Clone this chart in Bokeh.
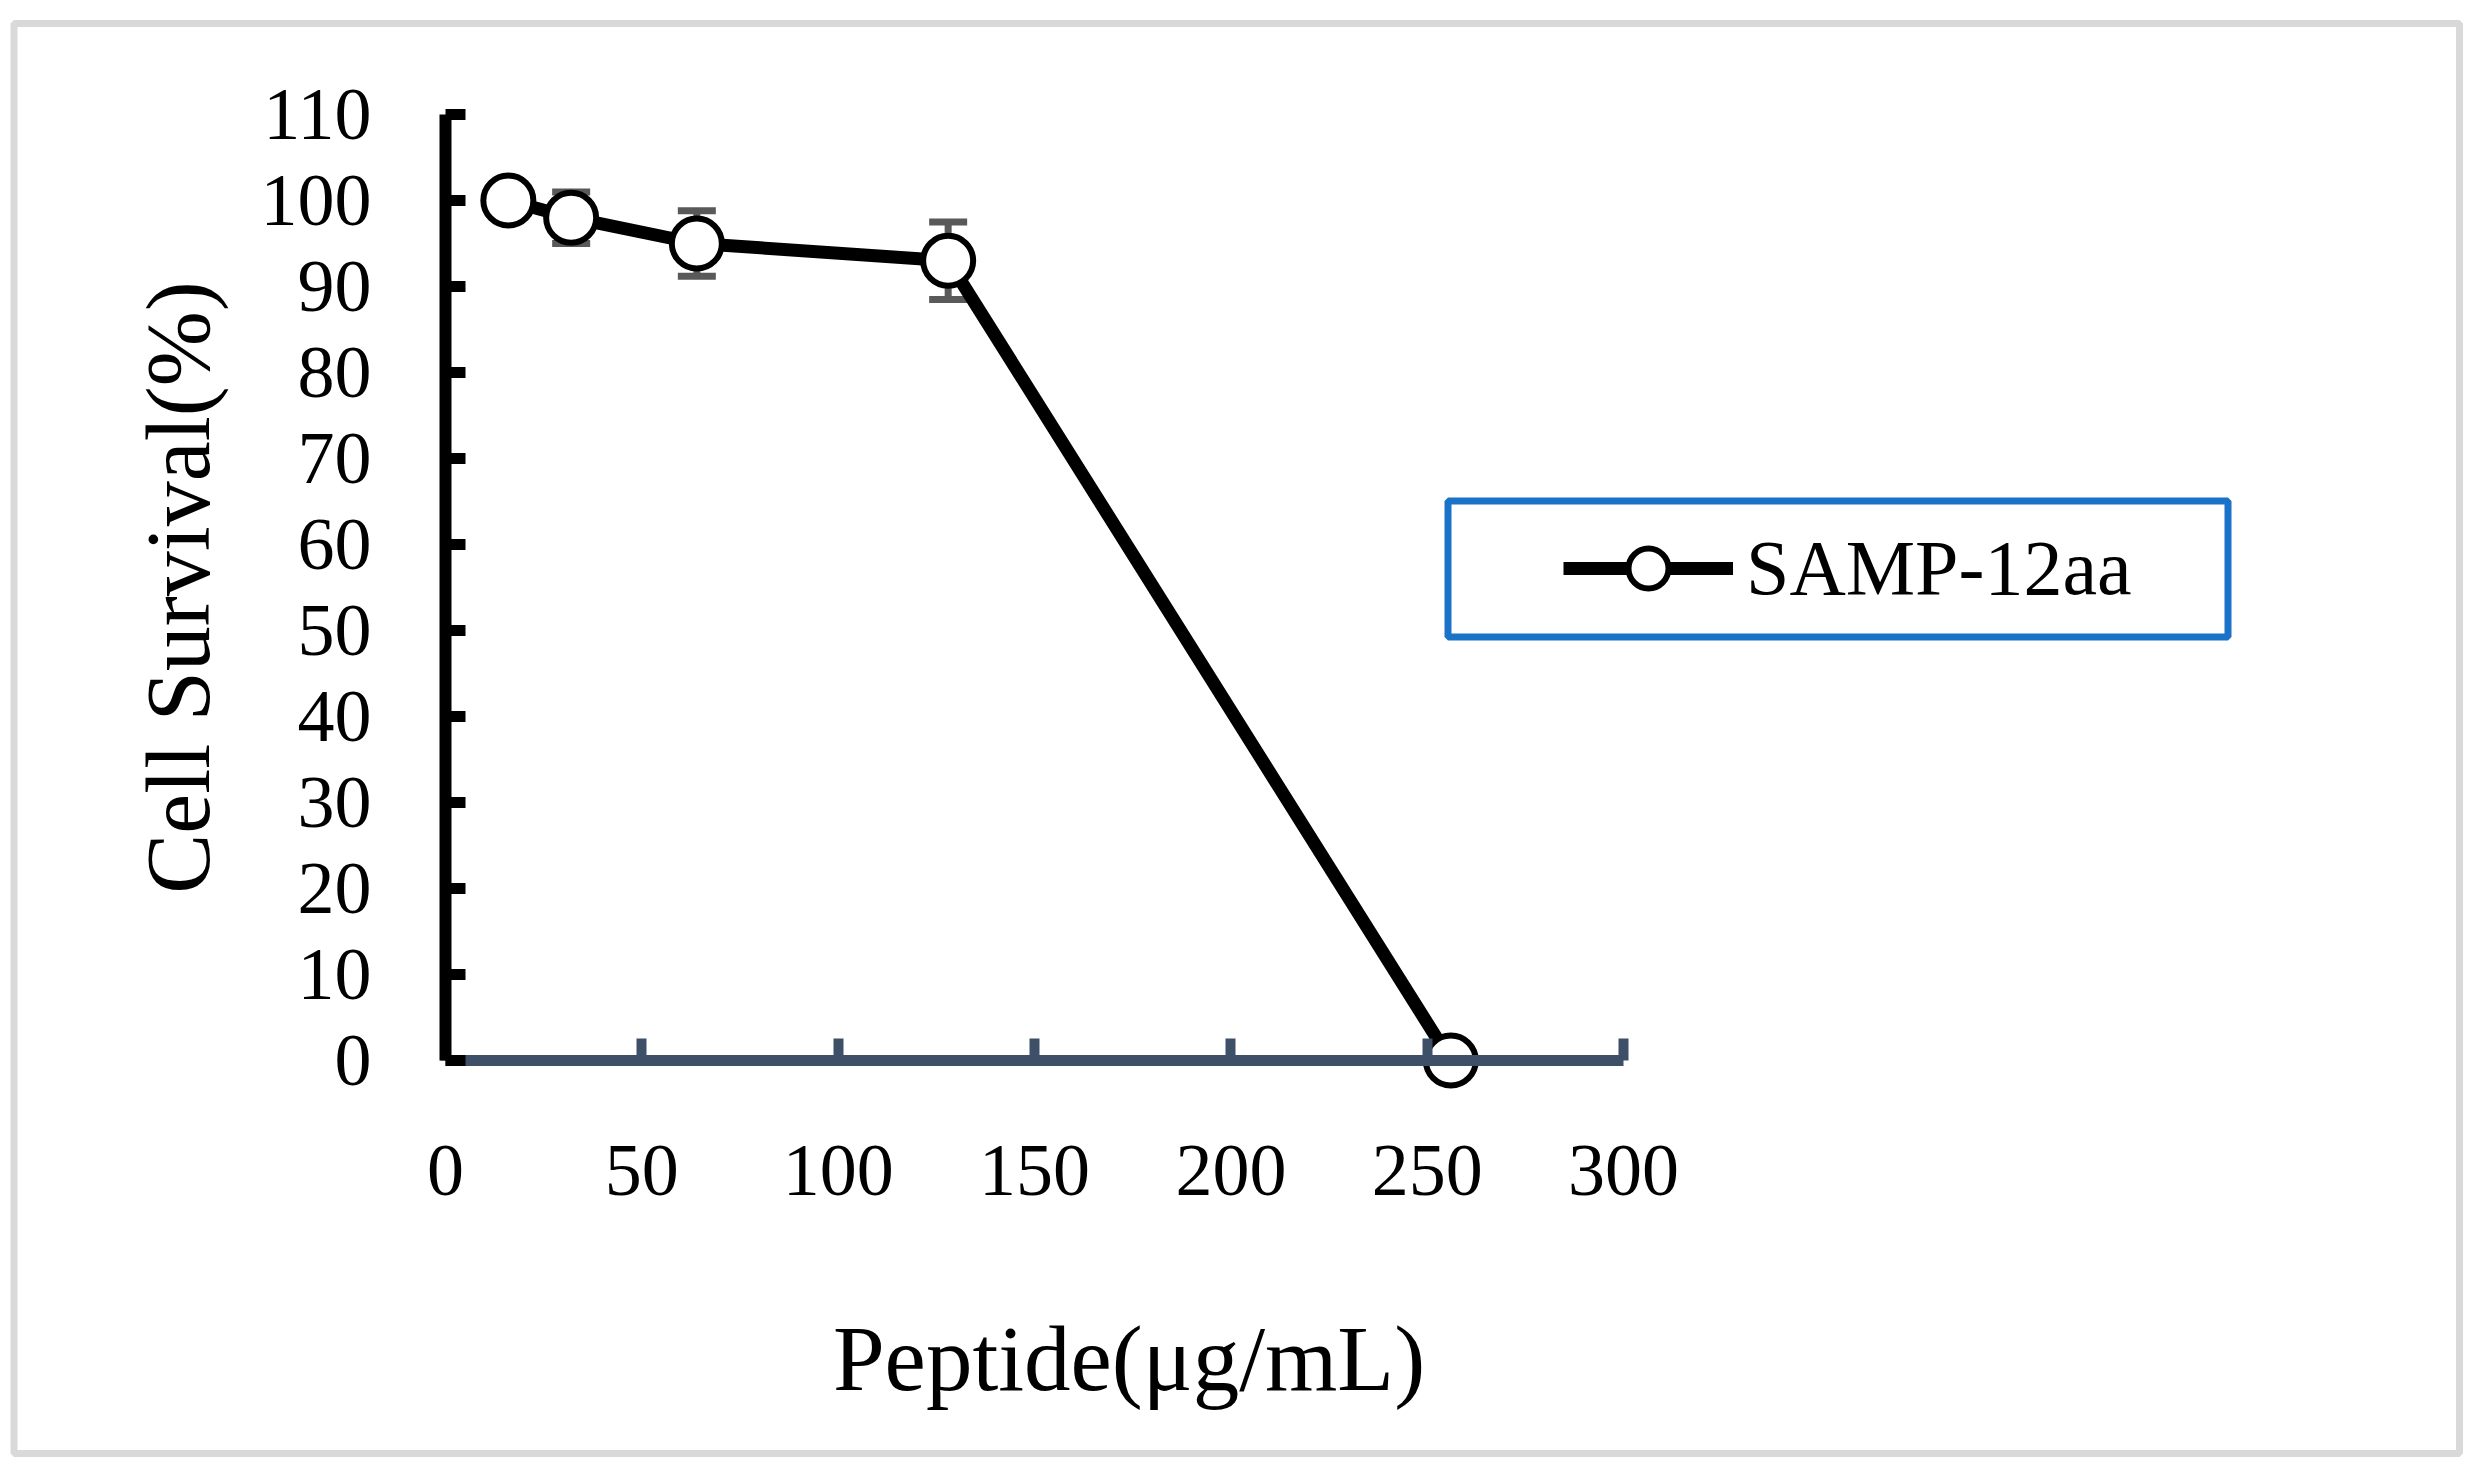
from bokeh.plotting import figure
from bokeh.models import (ColumnDataSource, Whisker, TeeHead, FixedTicker, Legend,
                          LegendItem, BoxAnnotation, Range1d, LinearAxis)
from bokeh.embed import file_html
from bokeh.resources import INLINE

# ---- data ----
concentration = [16, 32, 64, 128, 256]          # µg/mL
survival = [100, 98, 95, 93, 0]                 # %
error = [0, 3, 3.8, 4.5, 0]                     # ± %
series_name = "SAMP-12aa"
x_ticks = [0, 50, 100, 150, 200, 250, 300]
y_ticks = [0, 10, 20, 30, 40, 50, 60, 70, 80, 90, 100, 110]
x_label = "Peptide(μg/mL)"
y_label = "Cell Survival(%)"

FONT = "Liberation Serif"
AXIS_X_COLOR = "#3D5068"
ERR_COLOR = "#595959"
LEGEND_BORDER = "#1A73C8"

# ---- layout (pixels) ----
W, H = 2463, 1457
X0_PX, Y0_PX = 445, 1060          # where data (0, 0) sits on the canvas
X_PX_PER_UNIT, Y_PX_PER_UNIT = 3.927, 8.6

lower = [v - e for v, e in zip(survival, error)]
upper = [v + e for v, e in zip(survival, error)]
src = ColumnDataSource(dict(x=concentration, y=survival, lower=lower, upper=upper))

x_range = Range1d(-X0_PX / X_PX_PER_UNIT, (W - X0_PX) / X_PX_PER_UNIT)
y_range = Range1d(-(H - Y0_PX) / Y_PX_PER_UNIT, Y0_PX / Y_PX_PER_UNIT)

p = figure(frame_width=W, frame_height=H,
           min_border_left=0, min_border_right=0,
           min_border_top=0, min_border_bottom=0,
           x_range=x_range, y_range=y_range,
           output_backend="svg", toolbar_location=None)
p.grid.visible = False
p.outline_line_color = None
p.background_fill_color = "white"
p.border_fill_color = "white"

# y axis
ya = p.yaxis[0]
ya.fixed_location = 0
ya.bounds = (0, 110)
ya.ticker = FixedTicker(ticks=y_ticks)
ya.axis_line_width = 12
ya.axis_line_color = "black"
ya.major_tick_line_color = "black"
ya.major_tick_line_width = 11
ya.major_tick_in = 20
ya.major_tick_out = 0
ya.minor_tick_line_color = None
ya.major_label_text_font = FONT
ya.major_label_text_font_size = "74px"
ya.major_label_text_color = "black"
ya.major_label_standoff = 74
ya.axis_label = y_label
ya.axis_label_text_font = FONT
ya.axis_label_text_font_size = "90px"
ya.axis_label_text_font_style = "normal"
ya.axis_label_text_color = "black"
ya.axis_label_standoff = 30

# x axis (line, ticks, tick labels)
xa = p.xaxis[0]
xa.fixed_location = 0
xa.bounds = (0, 300)
xa.ticker = FixedTicker(ticks=x_ticks)
xa.axis_line_width = 11
xa.axis_line_color = AXIS_X_COLOR
xa.major_tick_line_color = AXIS_X_COLOR
xa.major_tick_line_width = 10
xa.major_tick_in = 22
xa.major_tick_out = 0
xa.minor_tick_line_color = None
xa.major_label_text_font = FONT
xa.major_label_text_font_size = "74px"
xa.major_label_text_color = "black"
xa.major_label_standoff = 85

# x axis title, centred as in the reference (slightly right of the axis centre)
xt = LinearAxis(fixed_location=0, bounds=(0, 348), ticker=FixedTicker(ticks=[]),
                axis_line_color=None, major_tick_line_color=None,
                minor_tick_line_color=None, major_label_standoff=0,
                axis_label=x_label, axis_label_text_font=FONT,
                axis_label_text_font_size="93px", axis_label_text_font_style="normal",
                axis_label_text_color="black", axis_label_standoff=246)
p.add_layout(xt, "below")

# error bars (behind markers)
head = dict(size=38, line_width=7, line_color=ERR_COLOR)
wh = Whisker(source=src, base="x", lower="lower", upper="upper", dimension="height",
             line_color=ERR_COLOR, line_width=7, level="underlay",
             upper_head=TeeHead(**head), lower_head=TeeHead(**head))
p.add_layout(wh)

ln = p.line("x", "y", source=src, line_width=13, line_color="black")
pts = p.scatter("x", "y", source=src, marker="circle", size=50,
                fill_color="white", line_color="black", line_width=6)

legend = Legend(items=[LegendItem(label=series_name, renderers=[ln, pts])],
                location=(1563, H - 518 - 100), orientation="vertical",
                padding=0, margin=0, spacing=0,
                glyph_width=170, glyph_height=100, label_height=100,
                label_standoff=13,
                label_text_font=FONT, label_text_font_size="78px",
                label_text_color="black",
                border_line_alpha=0, background_fill_alpha=0)
p.add_layout(legend, "center")

# legend frame (blue) and outer chart border (grey)
p.add_layout(BoxAnnotation(left=1447.5, right=2227.5, top=500.5, bottom=636.5,
                           left_units="canvas", right_units="canvas",
                           top_units="canvas", bottom_units="canvas",
                           fill_alpha=0, line_color=LEGEND_BORDER, line_width=7, line_alpha=1))
p.add_layout(BoxAnnotation(left=13.5, right=2459, top=23, bottom=1453,
                           left_units="canvas", right_units="canvas",
                           top_units="canvas", bottom_units="canvas",
                           fill_alpha=0, line_color="#D9D9D9", line_width=7, line_alpha=1))

open("out.html", "w").write(file_html(p, INLINE))
